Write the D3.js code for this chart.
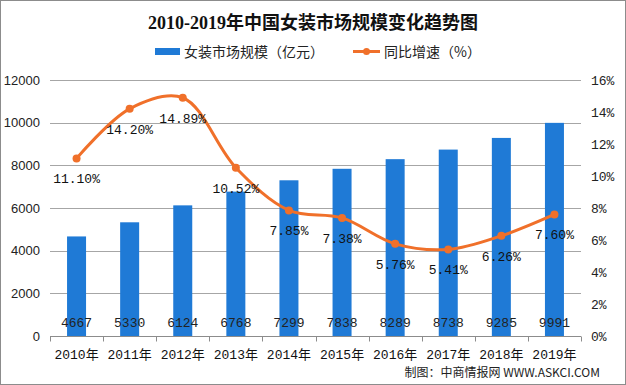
<!DOCTYPE html>
<html><head><meta charset="utf-8">
<script src="https://cdn.jsdelivr.net/npm/d3@7"></script>
<style>body{margin:0;background:#fff}svg{display:block}</style>
</head><body>
<svg id="c" width="626" height="385"></svg>
<script>
const years = ["2010年","2011年","2012年","2013年","2014年","2015年","2016年","2017年","2018年","2019年"];
const marketSize = [4667,5330,6124,6768,7299,7838,8289,8738,9285,9991];
const growth = [11.10,14.20,14.89,10.52,7.85,7.38,5.76,5.41,6.26,7.60];
const leftTicks = [0,2000,4000,6000,8000,10000,12000];
const rightTicks = [0,2,4,6,8,10,12,14,16];

const svg = d3.select("#c");
const W = 626, H = 385;
const m = {l:50, r:45, t:80, b:49};
const x0 = m.l, x1 = W - m.r, y0 = H - m.b, y1 = m.t;
const blue = "#1f7ad6", orange = "#f0702a";
const numFont = "'Liberation Sans', Arial, sans-serif";
const lblFont = "'Liberation Mono', 'Noto Sans CJK SC', monospace";

svg.append("rect").attr("x",0.5).attr("y",0.5).attr("width",W-1).attr("height",H-1)
  .attr("fill","#fff").attr("stroke","#8c8c8c");

const x = d3.scaleBand().domain(years).range([x0,x1]).padding(0);
const yL = d3.scaleLinear().domain([0,12000]).range([y0,y1]);
const yR = d3.scaleLinear().domain([0,16]).range([y0,y1]);

// gridlines
svg.append("g").selectAll("line").data(leftTicks.filter(d=>d>0)).join("line")
  .attr("x1",x0).attr("x2",x1).attr("y1",d=>Math.round(yL(d))+0.5).attr("y2",d=>Math.round(yL(d))+0.5)
  .attr("stroke","#a6a6a6").attr("stroke-width",1);

// left axis labels
const gl = svg.append("g").attr("transform",`translate(${x0},0)`)
  .call(d3.axisLeft(yL).tickValues(leftTicks).tickSize(0).tickPadding(10).tickFormat(d3.format("d")));
gl.select(".domain").remove();
gl.selectAll("text").attr("font-family",numFont).attr("font-size",13).attr("fill","#222");

// right axis labels
const gr = svg.append("g").attr("transform",`translate(${x1},0)`)
  .call(d3.axisRight(yR).tickValues(rightTicks).tickSize(0).tickPadding(10).tickFormat(d=>d+"%"));
gr.select(".domain").remove();
gr.selectAll("text").attr("font-family",lblFont).attr("font-size",13).attr("fill","#222");

// bars
const bw = 19;
svg.append("g").selectAll("rect").data(marketSize).join("rect")
  .attr("x",(d,i)=>x(years[i])+x.bandwidth()/2-bw/2).attr("width",bw)
  .attr("y",d=>yL(d)).attr("height",d=>y0-yL(d)).attr("fill",blue);

// bottom axis
const gb = svg.append("g").attr("transform",`translate(0,${Math.round(y0)+0.5})`);
gb.append("line").attr("x1",x0).attr("x2",x1).attr("stroke","#8c8c8c");
gb.selectAll("line.t").data(d3.range(years.length+1)).join("line").attr("class","t")
  .attr("x1",i=>Math.round(x0+i*x.step())+0.5).attr("x2",i=>Math.round(x0+i*x.step())+0.5)
  .attr("y1",0).attr("y2",5).attr("stroke","#8c8c8c");
gb.selectAll("text").data(years).join("text")
  .attr("x",d=>x(d)+x.bandwidth()/2).attr("y",22).attr("text-anchor","middle")
  .attr("font-family",lblFont).attr("font-size",13).attr("fill","#111").text(d=>d);

// bar value labels
svg.append("g").selectAll("text").data(marketSize).join("text")
  .attr("x",(d,i)=>x(years[i])+x.bandwidth()/2).attr("y",y0-9).attr("text-anchor","middle")
  .attr("font-family",lblFont).attr("font-size",13).attr("fill","#222").text(d=>d);

// line
const cx = i=>x(years[i])+x.bandwidth()/2;
const line = d3.line().x((d,i)=>cx(i)).y(d=>yR(d)).curve(d3.curveCatmullRom.alpha(0.5));
svg.append("path").datum(growth).attr("d",line).attr("fill","none")
  .attr("stroke",orange).attr("stroke-width",3);
svg.append("g").selectAll("circle").data(growth).join("circle")
  .attr("cx",(d,i)=>cx(i)).attr("cy",d=>yR(d)).attr("r",4).attr("fill",orange);
svg.append("g").selectAll("text").data(growth).join("text")
  .attr("x",(d,i)=>cx(i)).attr("y",d=>yR(d)+25).attr("text-anchor","middle")
  .attr("font-family",lblFont).attr("font-size",13).attr("fill","#111").text(d=>d.toFixed(2)+"%");

// title
svg.append("text").attr("x",313).attr("y",29).attr("text-anchor","middle")
  .attr("font-family","'Liberation Serif','Noto Sans CJK SC',serif").attr("font-weight","bold")
  .attr("font-size",18).attr("fill","#111").text("2010-2019年中国女装市场规模变化趋势图");

// legend
const lg = svg.append("g");
lg.append("rect").attr("x",155).attr("y",48).attr("width",25).attr("height",7).attr("fill",blue);
lg.append("text").attr("x",184).attr("y",57).attr("font-family","'Noto Sans CJK SC',sans-serif")
  .attr("font-size",14).attr("fill","#222").text("女装市场规模（亿元）");
lg.append("line").attr("x1",353).attr("x2",380).attr("y1",51.5).attr("y2",51.5).attr("stroke",orange).attr("stroke-width",3);
lg.append("circle").attr("cx",366.5).attr("cy",51.5).attr("r",3.5).attr("fill",orange);
lg.append("text").attr("x",384).attr("y",57).attr("font-family","'Noto Sans CJK SC',sans-serif")
  .attr("font-size",14).attr("fill","#222").text("同比增速（%）");

// source
svg.append("text").attr("x",600).attr("y",377).attr("text-anchor","end")
  .attr("font-family","'Noto Sans CJK SC',sans-serif").attr("font-size",12).attr("fill","#222")
  .text("制图：中商情报网 WWW.ASKCI.COM");
</script>
</body></html>
